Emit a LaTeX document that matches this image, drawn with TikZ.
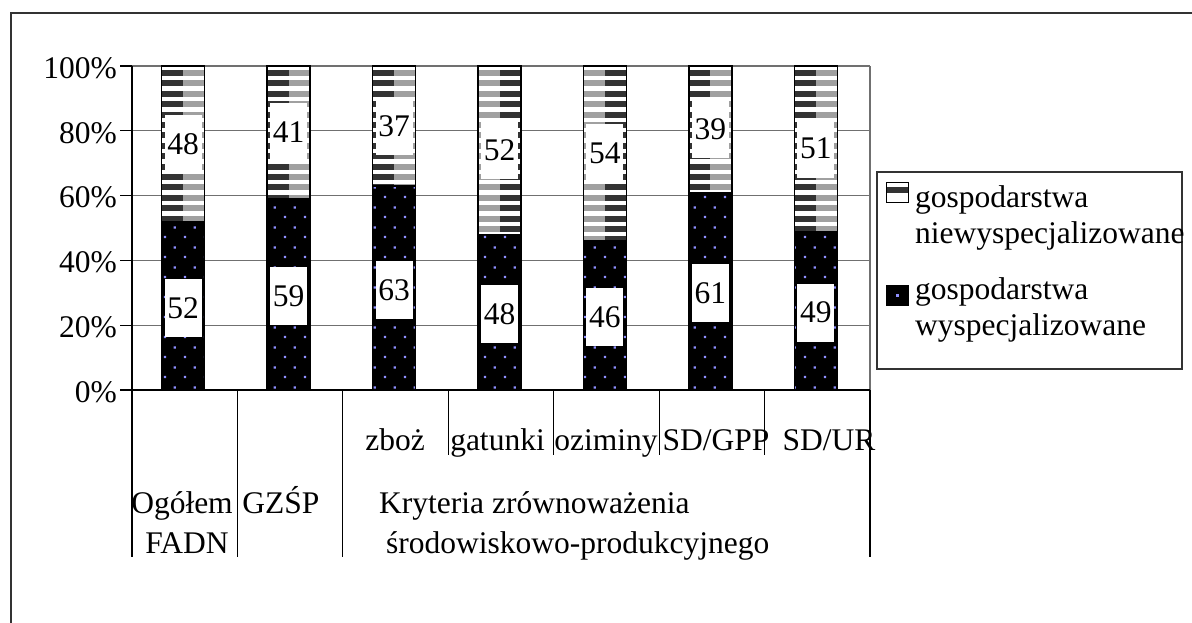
\documentclass[tikz,border=0pt]{standalone}
\usepackage{fontspec}
\setmainfont{Liberation Serif}
\usepackage{tikz}
\usetikzlibrary{patterns}
\usepackage{xcolor}

\definecolor{stripedark}{HTML}{333333}
\definecolor{stripelight}{HTML}{A0A0A0}
\definecolor{dotblue}{HTML}{9090FF}
\definecolor{gridgray}{HTML}{707070}

% dotted fill of the lower bars
\pgfdeclarepatternformonly{bardots}{\pgfqpoint{0pt}{0pt}}{\pgfqpoint{20pt}{20pt}}{\pgfqpoint{20pt}{20pt}}{%
  \pgfpathrectangle{\pgfqpoint{4pt}{4pt}}{\pgfqpoint{2.4pt}{2.4pt}}%
  \pgfpathrectangle{\pgfqpoint{14pt}{14pt}}{\pgfqpoint{2.4pt}{2.4pt}}%
  \pgfusepath{fill}}

\begin{document}
\begin{tikzpicture}[
    x=1pt, y=-1pt,
    font=\fontsize{31.5}{36}\selectfont,
    grid/.style={gridgray, line width=1.2pt},
    axis/.style={black, line width=1.2pt},
    barline/.style={black, line width=1.3pt},
    vallabel/.style={fill=white, inner sep=0pt, minimum width=37pt, minimum height=58pt},
    ticklabel/.style={anchor=east, inner sep=0pt},
    catlabel/.style={anchor=base, inner sep=0pt},
    legtext/.style={anchor=base west, inner sep=0pt}
]
\useasboundingbox (0,0) rectangle (1192,622);

% Outer frame
\draw[line width=1.5pt, black!80] (11,640) -- (11,13) -- (1210,13);

% Grid lines
\foreach \p in {20,40,...,100} {
  \draw[grid] (132,{390-3.24*\p}) -- (870,{390-3.24*\p});
}
\draw[grid] (870,66) -- (870,390);

% Value axis
\draw[axis] (132,66) -- (132,390) -- (870,390);
\foreach \p in {0,20,...,100} {
  \draw[axis] (120,{390-3.24*\p}) -- (132,{390-3.24*\p});
  \node[ticklabel] (y\p) at (117,{392-3.24*\p}) {\p\%};
}

% Bars
\foreach \i/\low/\lcol/\rcol in {1/52/stripedark/stripelight, 2/59/stripedark/stripelight,
    3/63/stripedark/stripelight, 4/48/stripelight/stripedark, 5/46/stripelight/stripedark,
    6/61/stripedark/stripelight, 7/49/stripedark/stripelight} {
  \pgfmathsetmacro{\xc}{132+105.43*(\i-0.5)-1.5}
  \pgfmathsetmacro{\xl}{\xc-21.5}
  \pgfmathsetmacro{\xr}{\xc+21.5}
  \pgfmathsetmacro{\yb}{390-3.24*\low}
  \pgfmathtruncatemacro{\high}{100-\low}
  \fill[black] (\xl,390) rectangle (\xr,\yb);
  \fill[pattern=bardots, pattern color=dotblue] (\xl,390) rectangle (\xr,\yb);
  \fill[white] (\xl,\yb) rectangle (\xr,66);
  \begin{scope}
    \clip (\xl,\yb) rectangle (\xr,66);
    \foreach \s in {0,...,31} {
      \fill[\lcol] (\xl,{70+10.4*\s}) rectangle (\xc,{76+10.4*\s});
      \fill[\rcol] (\xc,{70+10.4*\s}) rectangle (\xr,{76+10.4*\s});
    }
  \end{scope}
  \draw[barline] (\xl,390) rectangle (\xr,66);
  \draw[barline] (\xl,\yb) -- (\xr,\yb);
  % value labels
  \node[vallabel] (hi\i) at (\xc,{(66+\yb)/2}) {\high};
  \node[vallabel] (lo\i) at (\xc,{(390+\yb)/2+2}) {\low};
}

% Category separators
\foreach \k in {0,1,2,7} {
  \draw[axis] ({132+105.43*\k},390) -- ({132+105.43*\k},557);
}
\foreach \k in {3,4,5,6} {
  \draw[axis] ({132+105.43*\k},390) -- ({132+105.43*\k},455);
}

% Category labels
\node[catlabel] (zboz) at (395,450) {zboż};
\node[catlabel] (gatunki) at (497.5,450) {gatunki};
\node[catlabel] (oziminy) at (606,450) {oziminy};
\node[catlabel] (sdgpp) at (716,450) {SD/GPP};
\node[catlabel] (sdur) at (829,450) {SD/UR};
\node[catlabel] (ogolem) at (182,513) {Ogółem};
\node[catlabel] (fadn) at (187,553) {FADN};
\node[catlabel] (gzsp) at (281,513) {GZŚP};
\node[legtext] (kryteria) at (379,513) {Kryteria zrównoważenia};
\node[legtext] (srodowisko) at (386,553) {środowiskowo-produkcyjnego};

% Legend
\draw[line width=1.2pt, black!80] (877,172) rectangle (1182,369);
\fill[white] (886,182) rectangle (908,202);
\fill[stripedark] (886,187) rectangle (908,193);
\draw[line width=1pt] (886,182) rectangle (908,202);
\fill[black] (886,285) rectangle (908,305);
\fill[dotblue] (896,294) rectangle (898.5,296.5);
\draw[line width=1pt] (886,285) rectangle (908,305);
\node[legtext] (legnie1) at (915,207) {gospodarstwa};
\node[legtext] (legnie2) at (915,243) {niewyspecjalizowane};
\node[legtext] (legwy1) at (915,299) {gospodarstwa};
\node[legtext] (legwy2) at (915,335) {wyspecjalizowane};

\end{tikzpicture}
\end{document}
